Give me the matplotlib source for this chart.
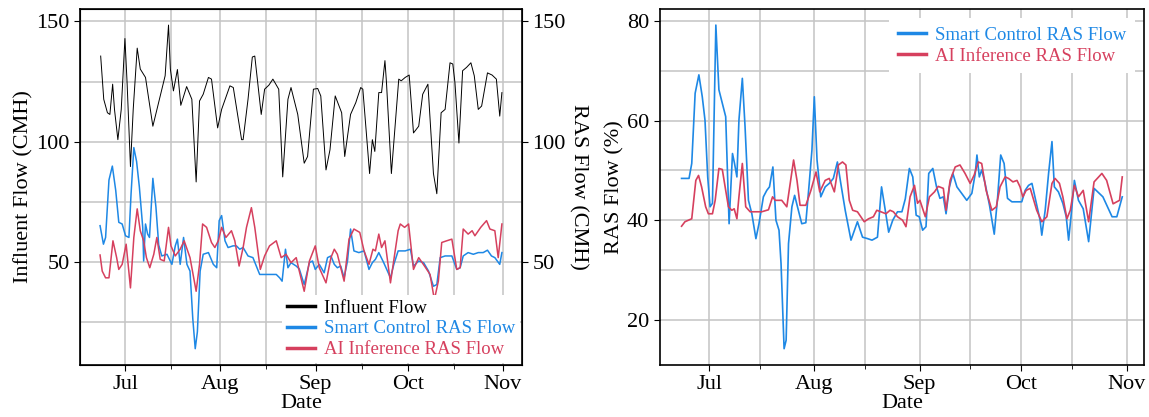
import pandas as pd
import matplotlib.pyplot as plt
import matplotlib.dates as mdates

plt.rcParams['font.family'] = ['Liberation Serif', 'DejaVu Serif']

# dias contados a partir de 1 de julho
origem = pd.Timestamp('2023-07-01')

# painel esquerdo: vazoes em CMH
infl_day = [-8, -7, -5.8, -5, -4.1, -3.5, -2.4, -1.3, -0.1, 0.6,
            1.7, 2.6, 3.9, 4.9, 6.6, 9.0, 11.4, 13, 14.1, 14.7,
            15.7, 17, 18.1, 20, 21.7, 23.1, 24.2, 25.4, 27.1, 28.1,
            30.1, 31.4, 34.1, 35.2, 37.9, 38.4, 40, 41.4, 42.2, 44.3,
            45.4, 46.8, 48.1, 50, 51.3, 53, 54, 56.2, 58.3, 59.4,
            61.3, 62.7, 63.7, 65.4, 66.7, 68.4, 70.5, 71.5, 73.4, 75.1,
            76.7, 77.4, 79.6, 80.5, 81.3, 82.6, 83.5, 84.6, 85.1, 86.7,
            89.1, 89.9, 91.2, 92.5, 93.9, 95.6, 96.9, 98.6, 100.4, 101.5,
            102.9, 104.2, 105.8, 106.7, 107.4, 108.7, 109.9, 111.2, 112.6, 113.7,
            115, 116.1, 118, 119.5, 120.9, 122, 122.7]
infl_val = [135.6, 117.6, 112, 111.3, 123.9, 113.4, 100.8, 113.4, 142.9, 124.6,
            89.6, 113.4, 138.9, 130.2, 126.7, 106.4, 119, 127.4, 148.5, 130.2,
            121.1, 130, 115.1, 122.9, 117.6, 83.2, 116.9, 119.7, 126.7, 126,
            105.7, 113.4, 123.2, 122.5, 100.8, 100.8, 117.6, 135.2, 135.6, 111.3,
            121.8, 123.5, 126, 121.8, 85.3, 117.6, 122.5, 111.3, 91, 93.8,
            121.8, 122.1, 119, 88.2, 96.6, 119, 112, 93.8, 111.3, 116.2,
            122.5, 121.8, 86.7, 100.8, 95.9, 120.4, 120.4, 133.7, 124.6, 86.7,
            126, 125.3, 126.7, 127.7, 103.6, 106.4, 119.7, 123.9, 86.7, 78.3,
            112, 113.4, 132.8, 132.3, 124.6, 99.4, 129.5, 130.9, 132.8, 127.4,
            113.4, 114.8, 128.6, 127.7, 126, 110.6, 120.4]

smart_cmh_day = [-8.2, -7.1, -6.4, -5.3, -4.2, -3.1, -2.1, -1, 0.1, 1.2,
                 1.9, 2.8, 3.7, 4.6, 5.7, 6.0, 6.6, 7.3, 7.9, 9.0,
                 10, 10.9, 11.9, 13.6, 15.2, 16.3, 17, 17.9, 19, 20.1,
                 21.1, 22, 22.8, 23.5, 24.4, 25.4, 27.1, 28.7, 29.8, 30.6,
                 31.4, 32.5, 33.5, 35.1, 36.2, 37.3, 38.4, 40, 41.6, 43.8,
                 45.9, 49.2, 50.3, 51.1, 52.2, 53, 54, 55.7, 56.7, 58.3,
                 60, 61, 61.9, 63.2, 64.8, 65.9, 67, 68.1, 69.1, 70.2,
                 71.3, 72.4, 73.4, 74.5, 76.1, 77.8, 79.4, 80.5, 81.5, 82.6,
                 84.2, 86.4, 87.5, 88.9, 91.2, 92.9, 93.9, 95.6, 97.2, 98.8,
                 100.4, 101.5, 102.6, 104.2, 106.4, 108, 109.1, 110.1, 111.7, 113.4,
                 115, 116.6, 118, 119.3, 120.4, 122, 122.7]
smart_cmh_val = [65, 57.3, 60.1, 84, 89.8, 79.7, 66.4, 65.7, 60.8, 60.1,
                 78.3, 97.5, 91.7, 81.1, 64.3, 50.3, 65.7, 61.5, 60.1, 84.7,
                 72.7, 57, 52.4, 53.1, 48.9, 56.6, 59.4, 48.9, 60.1, 48.9,
                 46.1, 26.4, 13.8, 20.8, 46.1, 53.1, 53.8, 48.9, 47.5, 67.1,
                 69.2, 58.7, 55.9, 56.6, 56.6, 55.2, 55.9, 52.4, 51.7, 44.7,
                 44.7, 44.7, 43.3, 41.9, 55.2, 47.5, 49.6, 48.2, 47, 40.5,
                 49.6, 50.3, 46.8, 48.9, 45.4, 51.7, 52.4, 48.9, 47.5, 48.2,
                 43.3, 50.3, 63.6, 54.5, 53.8, 54.5, 46.8, 49.6, 51, 53.8,
                 49.6, 43.3, 48.9, 54.5, 54.5, 55.2, 48.2, 50.3, 49.6, 46.1,
                 39.8, 40.5, 51.7, 52.4, 52.4, 46.8, 47.5, 52.4, 53.8, 53.1,
                 53.8, 53.8, 54.8, 52.4, 51.7, 48.9, 53.8]

ai_cmh_day = [-8.2, -7.5, -6.4, -5.3, -4, -2.8, -2.1, -1, 0.3, 1.7,
              2.8, 3.9, 4.9, 6, 6.9, 8, 9.3, 10.3, 11.4, 12.7,
              14.1, 14.9, 16.3, 17.9, 19.2, 21.1, 23.1, 24.2, 25.2, 26.5,
              28.1, 29.2, 30.3, 31.4, 32.8, 34.6, 35.7, 37.1, 38.4, 39.5,
              41.1, 42.2, 44, 45.4, 47, 49.2, 50.8, 52.4, 54, 55.7,
              56.7, 58.3, 60, 61.9, 63.2, 65.4, 67, 68.1, 69.1, 71.3,
              72.9, 74.5, 76.4, 77.8, 79.4, 80.7, 81.5, 82.6, 83.5, 84.6,
              86.4, 88.9, 89.6, 91, 92.3, 93.9, 95.6, 97.7, 99.3, 100.7,
              102, 103.1, 104.7, 106.4, 108, 109.1, 110.1, 111.7, 113, 113.9,
              115.8, 117.7, 118.8, 120.4, 121.5, 122.7]
ai_cmh_val = [52.8, 46.1, 43.3, 43.3, 58.7, 51.7, 46.8, 48.9, 57.3, 39.1,
              60.1, 72, 62.9, 58.7, 51.7, 47.5, 53.1, 60.1, 51, 50.3,
              64.3, 56.6, 52.4, 55.2, 58.7, 51.7, 37.7, 48.9, 65.7, 64.3,
              58, 55.9, 58.7, 64.3, 60.1, 62.9, 58.7, 48.2, 55.9, 64.3,
              72.5, 64.3, 46.8, 52.4, 56.6, 58.7, 51.7, 53.1, 49.6, 51.7,
              46.1, 37.7, 50.3, 56.6, 47.5, 41.2, 51.7, 55.2, 53.1, 41.9,
              59.4, 63.6, 62.2, 54.5, 48.9, 55.2, 54.5, 61.5, 55.9, 58.7,
              41.2, 62.9, 65.7, 64.3, 65.7, 46.8, 51.7, 47.8, 44.7, 34.2,
              41.9, 58, 58.7, 59.4, 46.8, 47.5, 63.6, 61.5, 62.9, 60.8,
              64.3, 67.1, 63.6, 62.9, 51.7, 65.7]

# painel direito: vazao de retorno em %
smart_pct_day = [-8.1, -6.6, -5.9, -5.1, -4.1, -3, -2, -1.2, -0.4, 0.3,
                 1, 2, 2.9, 3.9, 4.9, 5.9, 6.9, 7.5, 8.2, 8.8,
                 9.8, 10.6, 11.6, 12.6, 13.8, 14.7, 16, 17, 17.8, 18.8,
                 19.7, 20.6, 21.2, 22.1, 22.7, 23.4, 24.4, 25.2, 26.3, 27.3,
                 28.5, 29.5, 30.3, 31, 31.8, 32.9, 34.2, 35.4, 36.6, 37.8,
                 38.8, 40.1, 41.8, 43.7, 45.2, 46.7, 48, 49.6, 50.8, 51.9,
                 52.9, 54.1, 55.5, 56.8, 57.8, 59, 60, 61, 61.9, 62.9,
                 63.9, 64.7, 65.9, 67, 68, 69, 69.8, 70.8, 71.8, 73,
                 74.4, 75.9, 77.4, 78.4, 78.9, 79.6, 80.3, 81.3, 82.6, 84,
                 85, 85.9, 86.9, 87.9, 89.2, 90.7, 92.1, 93.1, 94.1, 95.1,
                 96.4, 97.5, 98, 99, 100, 101, 101.7, 102.9, 104.2, 105.2,
                 105.9, 106.6, 107.6, 108.8, 110.2, 111.8, 113.4, 116, 118.7, 120.1,
                 121.7]
smart_pct_val = [48.4, 48.4, 48.4, 51.4, 65.5, 69.2, 64.8, 60.1, 48.7, 42.7,
                 43.4, 79.2, 66.2, 63.5, 60.8, 39.3, 53.4, 51.4, 48.7, 60.1,
                 68.5, 58.8, 44, 41.3, 36.3, 39.3, 44.7, 46, 46.7, 50.7,
                 40, 38, 31.3, 14.2, 15.9, 35.3, 42.7, 45, 42, 39.3,
                 39.5, 47.4, 54.1, 64.8, 52.1, 44.7, 46.7, 47.4, 48.4, 51.7,
                 47.4, 42, 36, 39.7, 36.6, 36.3, 36, 36.6, 46.7, 42,
                 37.6, 40, 41.7, 41.7, 44.3, 50.4, 48.7, 41, 40.7, 38,
                 38.7, 49.4, 50.4, 46.7, 44.4, 44.7, 41.3, 46.7, 49.4, 46.7,
                 45.4, 44, 45.4, 49.4, 53.1, 48.7, 50.1, 47.4, 43, 37.2,
                 44.7, 53.1, 51.4, 44.4, 43.7, 43.7, 43.7, 46, 47, 47.4,
                 43.4, 40, 37, 42, 49.4, 55.8, 46.7, 45.7, 43.4, 40.7,
                 36, 40.7, 48, 44, 42.3, 35.7, 46.4, 44.7, 40.7, 40.7,
                 44.7]

ai_pct_day = [-8.1, -7.1, -5.1, -3.9, -3.1, -2.2, -1, -0.2, 1, 1.8,
              2.9, 3.9, 4.9, 5.7, 6.7, 7.4, 8.2, 8.8, 9.8, 10.8,
              12.1, 13.6, 15.5, 17.5, 18.7, 19.5, 21.4, 22.9, 24.9, 25.9,
              26.8, 28.5, 30, 31.5, 32.6, 34.2, 35.4, 36.9, 38.1, 39.3,
              40.3, 41.3, 42.3, 43.7, 45.7, 47, 48.4, 49.4, 50.6, 52.1,
              53.3, 54.3, 55.5, 57, 58, 59.2, 60.5, 61.4, 62.1, 63.7,
              64.9, 66.4, 67.5, 69, 69.8, 71, 72.5, 73.9, 75.4, 76.9,
              78.1, 79.3, 80.3, 81.6, 83.3, 84.6, 85.7, 87.2, 88.2, 89.5,
              90.7, 91.6, 92.4, 93.4, 94.6, 96.5, 98, 99.5, 101, 101.9,
              103.2, 104.2, 105.4, 106.4, 107.6, 108.8, 110.2, 111.8, 113.4, 115.7,
              117.1, 119, 120.9, 121.7]
ai_pct_val = [38.8, 39.7, 40.3, 48, 49, 46.7, 42.7, 41.3, 41.3, 44,
              50.4, 50.2, 46, 42.7, 42, 42.3, 40.3, 44.7, 51.4, 42.7,
              41.7, 41.7, 41.7, 42.1, 44.7, 44, 44, 42.7, 52.1, 48,
              43, 43, 46, 49.7, 45.7, 48, 48.4, 45.7, 51.1, 51.7,
              51.1, 44, 42, 41.7, 39.7, 40.3, 40.7, 42, 41.7, 41.3,
              42, 41.7, 40.7, 40, 38.7, 44.7, 47, 43.4, 44, 40.7,
              44.7, 45.7, 46.8, 46.4, 42, 48, 50.7, 51.1, 49.4, 47.4,
              49.1, 51.7, 51.4, 46, 42, 42.7, 46.7, 48.7, 48.4, 47.7,
              48, 46.7, 44.7, 46, 46.4, 42, 39.7, 40.7, 47.4, 48.4,
              47.4, 44.7, 40.3, 42, 47, 44.7, 46, 39.7, 47.7, 49.4,
              48, 43.3, 44, 48.7]

azul = '#1E88E5'
vermelho = '#D6405E'


def datas(dias):
    return origem + pd.to_timedelta(dias, unit='D')


def formatar(ax):
    ax.xaxis.set_major_locator(mdates.MonthLocator())
    ax.xaxis.set_major_formatter(mdates.DateFormatter('%b'))
    ax.xaxis.set_minor_locator(mdates.MonthLocator(bymonthday=16))
    ax.grid(which='both', color='#c4c4c4', linewidth=1.1)
    ax.set_axisbelow(True)
    ax.tick_params(labelsize=16, length=4)
    ax.tick_params(which='minor', length=3)
    ax.set_xlabel('Date', fontsize=16, labelpad=0)
    for s in ax.spines.values():
        s.set_linewidth(1.2)


fig = plt.figure(figsize=(11.49, 4.17), dpi=100)

# grafico da esquerda
ax1 = fig.add_axes([0.0696, 0.125, 0.3847, 0.8537])
ax1.plot(datas(infl_day), infl_val, color='black', lw=0.7, label='Influent Flow')
ax1.plot(datas(smart_cmh_day), smart_cmh_val, color=azul, lw=1.1, label='Smart Control RAS Flow')
ax1.plot(datas(ai_cmh_day), ai_cmh_val, color=vermelho, lw=1.1, label='AI Inference RAS Flow')
formatar(ax1)
ax1.set_yticks([50, 100, 150])
ax1.set_yticks([25, 75, 125], minor=True)
ax1.tick_params(axis='y', which='minor', length=0)
ax1.set_ylabel('Influent Flow (CMH)', fontsize=16, labelpad=2)
ax1b = ax1.twinx()
ax1b.set_ylim(ax1.get_ylim())
ax1b.set_yticks([50, 100, 150])
ax1b.tick_params(labelsize=16, length=4)
ax1b.set_ylabel('RAS Flow (CMH)', fontsize=16, rotation=270, labelpad=16)
leg1 = ax1b.legend(*ax1.get_legend_handles_labels(), loc='lower right', fontsize=13.5,
                   labelcolor='linecolor', frameon=True, fancybox=False, framealpha=1,
                   edgecolor='none', handlelength=1.5, handletextpad=0.5,
                   borderaxespad=0.1, labelspacing=0.2, borderpad=0.25)
for h in leg1.get_lines():
    h.set_linewidth(2.5)

# grafico da direita
ax2 = fig.add_axes([0.574, 0.125, 0.4219, 0.8537])
ax2.plot(datas(smart_pct_day), smart_pct_val, color=azul, lw=1.2, label='Smart Control RAS Flow')
ax2.plot(datas(ai_pct_day), ai_pct_val, color=vermelho, lw=1.2, label='AI Inference RAS Flow')
formatar(ax2)
ax2.set_yticks([20, 40, 60, 80])
ax2.set_yticks([30, 50, 70], minor=True)
ax2.tick_params(axis='y', which='minor', length=0)
ax2.set_ylabel('RAS Flow (%)', fontsize=16, labelpad=2)
leg2 = ax2.legend(loc='upper right', fontsize=13.5, labelcolor='linecolor', frameon=True,
                  fancybox=False, framealpha=1, edgecolor='none', handlelength=1.5,
                  handletextpad=0.5, borderaxespad=0.5, labelspacing=0.2,
                  borderpad=0.45)
for h in leg2.get_lines():
    h.set_linewidth(2.5)

fig.savefig('out.png', dpi=100)
